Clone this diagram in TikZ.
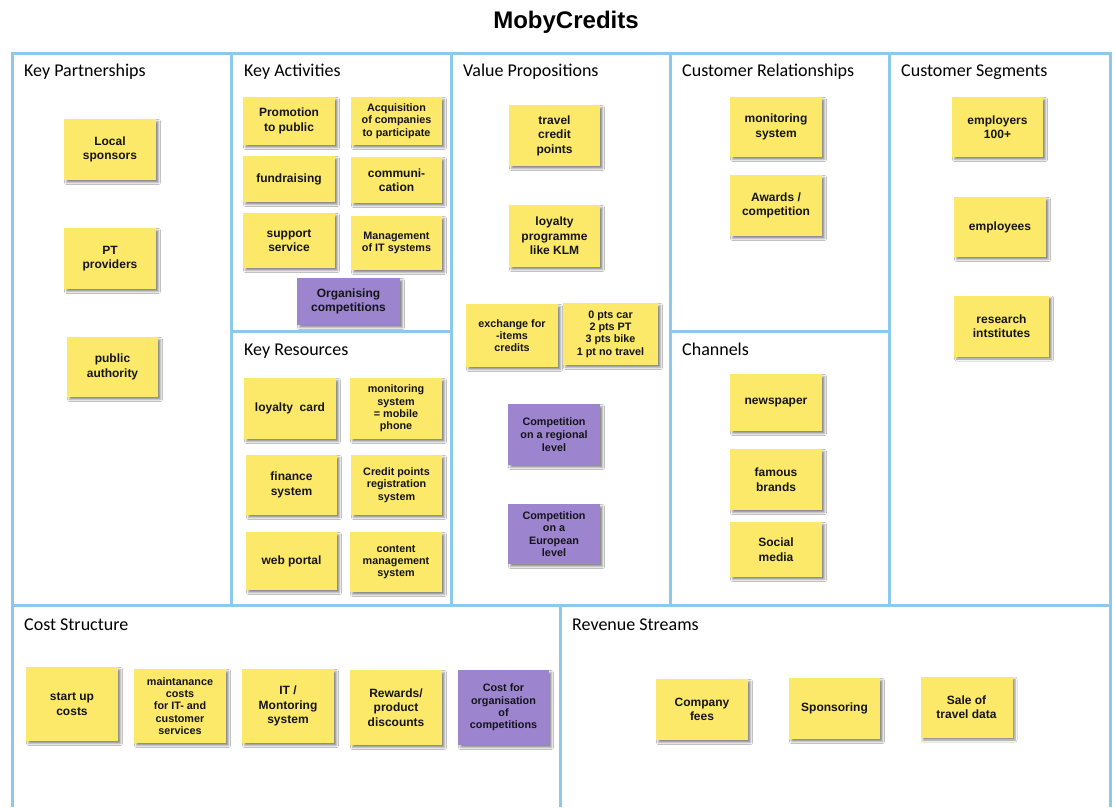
\documentclass[tikz,border=0pt]{standalone}
\usepackage{fontspec}
\setmainfont{Liberation Sans}
\newfontfamily\labelfont{Carlito}
\usetikzlibrary{shadows.blur}

\definecolor{frameblue}{RGB}{141,201,236}
\definecolor{noteyellow}{RGB}{252,233,106}
\definecolor{notepurple}{RGB}{156,133,206}
\definecolor{notetext}{RGB}{20,20,25}

\tikzset{
  panel/.style={draw=frameblue, line width=3pt},
  paneltitle/.style={anchor=base west, inner sep=0pt, font=\labelfont\fontsize{18}{20}\selectfont},
  note/.style={fill=noteyellow, inner sep=1pt, align=center, text=notetext,
    minimum width=92pt, minimum height=60pt,
    font=\bfseries\fontsize{12}{14.5}\selectfont,
    blur shadow={shadow xshift=2.5pt, shadow yshift=-2.5pt, shadow blur radius=2pt, shadow opacity=45}},
  pnote/.style={note, fill=notepurple},
  small/.style={font=\bfseries\fontsize{10.8}{12.3}\selectfont},
  sz/.style n args={2}{minimum width=#1pt, minimum height=#2pt},
}

\begin{document}
\begin{tikzpicture}[x=1pt, y=-1pt]
\useasboundingbox[fill=white] (0,0) rectangle (1116,807);

% title
\node[font=\bfseries\fontsize{24}{28}\selectfont] (title) at (566,22) {MobyCredits};

% canvas grid
\draw[panel] (12,807) -- (12,53) -- (1110,53) -- (1110,807);
\draw[panel] (231,53) -- (231,605);
\draw[panel] (451,53) -- (451,605);
\draw[panel] (670,53) -- (670,605);
\draw[panel] (889,53) -- (889,605);
\draw[panel] (12,605) -- (1110,605);
\draw[panel] (231,331) -- (451,331);
\draw[panel] (670,331) -- (889,331);
\draw[panel] (560,605) -- (560,807);

% block titles
\node[paneltitle] (tkp) at (24,76)  {Key Partnerships};
\node[paneltitle] (tka) at (244,76) {Key Activities};
\node[paneltitle] (tkr) at (244,355) {Key Resources};
\node[paneltitle] (tvp) at (463,76) {Value Propositions};
\node[paneltitle] (tcr) at (682,76) {Customer Relationships};
\node[paneltitle] (tch) at (682,355) {Channels};
\node[paneltitle] (tcs) at (901,76) {Customer Segments};
\node[paneltitle] (tco) at (24,630) {Cost Structure};
\node[paneltitle] (trs) at (572,630) {Revenue Streams};

% Key Partnerships
\node[note, sz={92}{61}] (kp1) at (110,149.5) {Local\\sponsors};
\node[note, sz={92}{61}] (kp2) at (110,258.5) {PT\\providers};
\node[note, sz={91}{60}] (kp3) at (112.5,367) {public\\authority};

% Key Activities
\node[note, sz={92}{48}] (ka1) at (289,121) {Promotion\\to public};
\node[note, small, sz={91}{48}] (ka2) at (396.5,121) {Acquisition\\of companies\\to participate};
\node[note, sz={92}{46}] (ka3) at (289,179) {fundraising};
\node[note, sz={91}{46}] (ka4) at (396.5,180) {communi-\\cation};
\node[note, sz={92}{55}] (ka5) at (289,240.5) {support\\service};
\node[note, small, sz={91}{54}] (ka6) at (396.5,243) {Management\\of IT systems};
\node[pnote, sz={103}{47}] (ka7) at (348.5,301.5) {Organising\\competitions};

% Key Resources
\node[note, sz={92}{61}] (kr1) at (290,408.5) {loyalty~ card};
\node[note, small, sz={92}{61}] (kr2) at (396,408.5) {monitoring\\system\\= mobile\\phone};
\node[note, sz={91}{60}] (kr3) at (291.5,485) {finance\\system};
\node[note, small, sz={91}{60}] (kr4) at (396.5,485) {Credit points\\registration\\system};
\node[note, sz={91}{58}] (kr5) at (291.5,561) {web portal};
\node[note, small, sz={92}{60}] (kr6) at (396,562) {content\\management\\system};

% Value Propositions
\node[note, sz={91}{61}] (vp1) at (554.5,135.5) {travel\\credit\\points};
\node[note, sz={91}{62}] (vp2) at (554.5,236) {loyalty\\programme\\like KLM};
\node[note, small, sz={92}{63}] (vp3) at (512,335.5) {exchange for\\-items\\credits};
\node[note, small, sz={95}{62}] (vp4) at (610.5,334) {0 pts car\\2 pts PT\\3 pts bike\\1 pt no travel};
\node[pnote, font=\bfseries\fontsize{10.8}{13.3}\selectfont, sz={92}{61}] (vp5) at (554,434.5) {Competition\\on a regional\\level};
\node[pnote, small, sz={92}{60}] (vp6) at (554,534) {Competition\\on a\\European\\level};

% Customer Relationships
\node[note, sz={92}{60}] (cr1) at (776,127) {monitoring\\system};
\node[note, sz={92}{61}] (cr2) at (776,205.5) {Awards /\\competition};

% Channels
\node[note, sz={92}{57}] (ch1) at (776,402.5) {newspaper};
\node[note, sz={92}{61}] (ch2) at (776,479.5) {famous\\brands};
\node[note, sz={92}{55}] (ch3) at (776,549.5) {Social\\media};

% Customer Segments
\node[note, sz={91}{60}] (cs1) at (997.5,127) {employers\\100+};
\node[note, sz={92}{60}] (cs2) at (1000,227) {employees};
\node[note, sz={95}{61}] (cs3) at (1001.5,326) {research\\intstitutes};

% Cost Structure
\node[note, sz={92}{74}] (co1) at (72,704) {start up\\costs};
\node[note, small, sz={92}{74}] (co2) at (180,706) {maintanance\\costs\\for IT- and\\customer\\services};
\node[note, sz={92}{74}] (co3) at (288,706) {IT /\\Montoring\\system};
\node[note, sz={92}{75}] (co4) at (396,707.5) {Rewards/\\product\\discounts};
\node[pnote, small, sz={91}{75}] (co5) at (503.5,707.5) {Cost for\\organisation\\of\\competitions};

% Revenue Streams
\node[note, sz={92}{61}] (rs1) at (702,709.5) {Company\\fees};
\node[note, sz={91}{61}] (rs2) at (834.5,708.5) {Sponsoring};
\node[note, sz={92}{61}] (rs3) at (966.5,707) {Sale of\\travel data};
\end{tikzpicture}
\end{document}
